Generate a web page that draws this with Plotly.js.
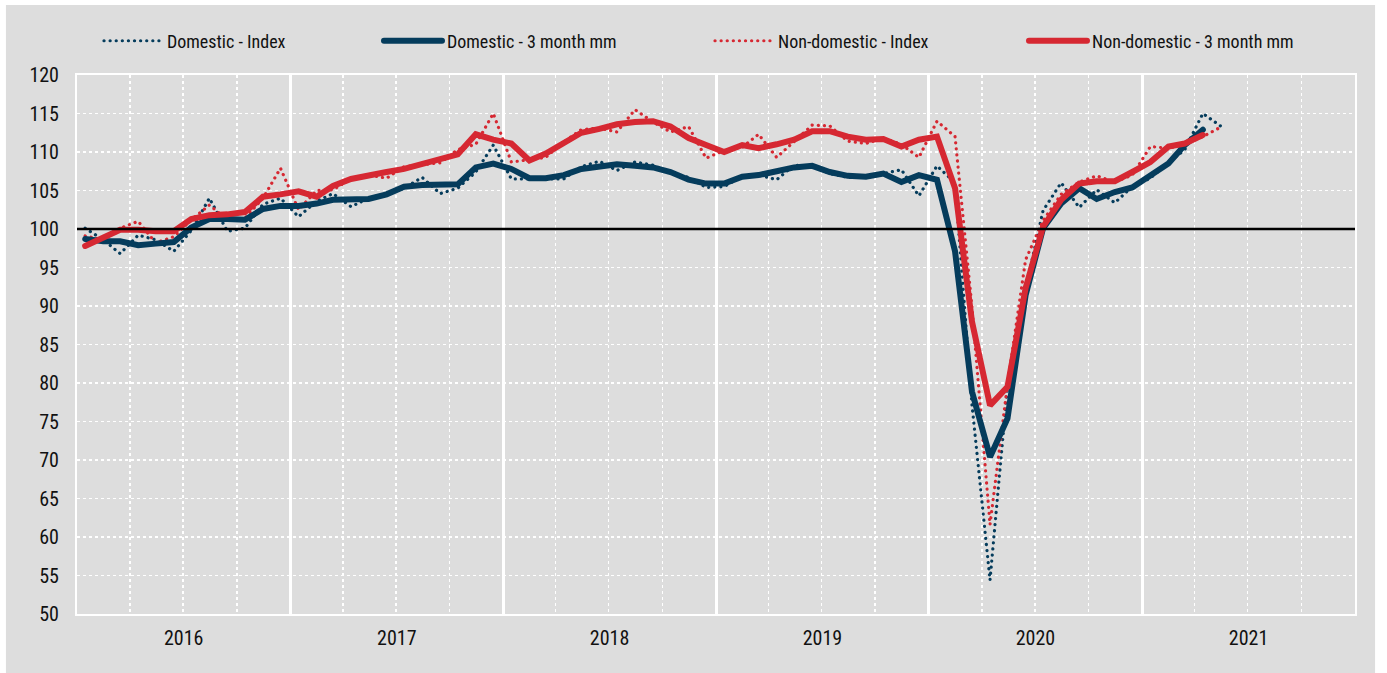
<!DOCTYPE html>
<html>
<head>
<meta charset="utf-8">
<script src="https://cdn.plot.ly/plotly-3.0.1.min.js"></script>
<style>
  html, body { margin: 0; padding: 0; background: #ffffff; }
  #chart { width: 1387px; height: 673px; }
  #chart path.js-line { stroke-linecap: round !important; }
</style>
</head>
<body>
<div id="chart"></div>
<script>
// Monthly observations, Jan 2016 onwards (plotted at mid-month)
const startYear = 2016;
const domesticIndex = [
  100.1, 98.6, 96.8, 99.2, 98.6, 97.1, 99.8, 104.0, 99.7, 100.1,
  103.2, 104.0, 101.6, 103.6, 104.6, 102.9, 104.0, 104.5, 105.3, 106.7,
  104.6, 105.3, 107.4, 110.9, 106.5, 106.5, 106.6, 106.5, 108.1, 108.8,
  107.6, 108.7, 108.3, 107.3, 106.7, 105.4, 105.5, 106.9, 107.0, 106.4,
  108.3, 108.2, 107.2, 106.7, 106.7, 107.2, 107.7, 104.3, 108.2, 106.0,
  77.2, 54.4, 79.6, 92.2, 102.4, 106.0, 102.8, 105.1, 103.4, 105.5,
  106.6, 108.6, 110.3, 115.0, 113.4
];
const domestic3mm = [
  98.7, 98.4, 98.4, 97.9, 98.1, 98.3, 100.2, 101.3, 101.3, 101.2,
  102.6, 103.0, 103.0, 103.3, 103.8, 103.9, 103.9, 104.5, 105.5, 105.7,
  105.7, 105.8, 108.0, 108.5, 107.8, 106.6, 106.6, 107.0, 107.8, 108.1,
  108.4, 108.2, 108.0, 107.4, 106.4, 105.9, 105.9, 106.8, 107.0, 107.5,
  108.0, 108.2, 107.4, 106.9, 106.8, 107.2, 106.1, 107.0, 106.4, 97.1,
  78.9, 70.4, 75.4, 91.4, 100.1, 103.3, 105.3, 103.9, 104.8, 105.4,
  107.0, 108.5, 110.9, 112.9
];
const nonDomesticIndex = [
  99.1, 98.6, 100.1, 101.0, 98.2, 99.0, 101.2, 103.1, 101.2, 101.4,
  104.0, 107.9, 102.5, 105.0, 105.1, 106.5, 107.0, 106.6, 108.1, 108.3,
  108.6, 110.3, 111.0, 115.0, 108.7, 109.0, 109.3, 111.3, 112.9, 113.1,
  112.6, 115.5, 113.9, 112.6, 113.3, 109.2, 110.2, 110.6, 112.3, 109.3,
  111.4, 113.5, 113.4, 111.4, 111.1, 111.8, 111.0, 109.3, 114.0, 112.0,
  89.9, 61.6, 79.8, 96.0, 101.1, 104.5, 106.1, 106.9, 106.1, 107.0,
  110.7, 110.5, 111.0, 112.0, 113.2
];
const nonDomestic3mm = [
  97.8, 98.8, 99.9, 99.9, 99.7, 99.7, 101.3, 101.8, 101.9, 102.2,
  104.2, 104.5, 104.9, 104.2, 105.6, 106.5, 107.0, 107.4, 107.8, 108.4,
  109.1, 109.7, 112.3, 111.6, 111.1, 108.9, 109.8, 111.1, 112.5, 113.0,
  113.6, 113.9, 114.0, 113.3, 111.8, 110.9, 110.0, 110.9, 110.5, 111.0,
  111.6, 112.7, 112.7, 112.0, 111.6, 111.7, 110.7, 111.6, 112.0, 105.3,
  88.0, 77.1, 79.5, 92.3, 100.3, 103.8, 105.9, 106.2, 106.2, 107.4,
  108.7, 110.7, 111.1, 112.2
];
const seriesNames = ["Domestic - Index", "Domestic - 3 month mm", "Non-domestic - Index", "Non-domestic - 3 month mm"];

function monthDates(n) {
  const out = [];
  for (let i = 0; i < n; i++) {
    const y = startYear + Math.floor(i / 12);
    const m = (i % 12) + 1;
    out.push(y + "-" + String(m).padStart(2, "0") + "-15");
  }
  return out;
}

const NAVY = "#053c5c";
const RED = "#d62832";
const FONT = "'Liberation Sans Narrow', 'Roboto Condensed', 'DejaVu Sans Condensed', 'Arial Narrow', sans-serif";
const DOTS = "0.1px,6px";

const traces = [
  { x: monthDates(domesticIndex.length), y: domesticIndex, name: seriesNames[0], mode: "lines",
    line: { color: NAVY, width: 3.2, dash: DOTS }, legend: "legend" },
  { x: monthDates(nonDomesticIndex.length), y: nonDomesticIndex, name: seriesNames[2], mode: "lines",
    line: { color: RED, width: 3.2, dash: DOTS }, legend: "legend3" },
  { x: monthDates(domestic3mm.length), y: domestic3mm, name: seriesNames[1], mode: "lines",
    line: { color: NAVY, width: 6 }, legend: "legend2" },
  { x: monthDates(nonDomestic3mm.length), y: nonDomestic3mm, name: seriesNames[3], mode: "lines",
    line: { color: RED, width: 6 }, legend: "legend4" }
];

const legendBase = {
  orientation: "h", bgcolor: "rgba(0,0,0,0)", borderwidth: 0,
  font: { family: FONT, size: 18, color: "#111111" },
  itemwidth: 58, y: 1.063, yanchor: "middle", xanchor: "left",
  itemclick: false, itemdoubleclick: false
};

const GRAY = "#dddddd";
const layout = {
  width: 1387, height: 673,
  margin: { l: 77, r: 32, t: 75, b: 59, pad: 0 },
  paper_bgcolor: "#ffffff",
  plot_bgcolor: GRAY,
  showlegend: true,
  legend: Object.assign({}, legendBase, { x: 0.0172 }),
  legend2: Object.assign({}, legendBase, { x: 0.2363 }),
  legend3: Object.assign({}, legendBase, { x: 0.4953 }),
  legend4: Object.assign({}, legendBase, { x: 0.7410 }),
  xaxis: {
    type: "date",
    range: ["2016-01-01", "2022-01-01"],
    dtick: "M12", tick0: "2016-01-01",
    tickformat: "%Y", ticklabelmode: "period",
    showgrid: true, gridcolor: "#ffffff", gridwidth: 3,
    minor: { dtick: "M3", showgrid: true, gridcolor: "#ffffff", gridwidth: 1.5, griddash: "dot" },
    ticks: "outside", ticklen: 5, tickcolor: "rgba(0,0,0,0)",
    showline: true, linecolor: "#ffffff", linewidth: 2, mirror: true,
    zeroline: false,
    tickfont: { family: FONT, size: 20, color: "#111111" }
  },
  yaxis: {
    range: [50, 120], dtick: 5, tick0: 50,
    showgrid: true, gridcolor: "#ffffff", gridwidth: 1.5, griddash: "dot",
    ticks: "outside", ticklen: 12, tickcolor: "rgba(0,0,0,0)",
    showline: true, linecolor: "#ffffff", linewidth: 2, mirror: true,
    zeroline: false,
    tickfont: { family: FONT, size: 20, color: "#111111" }
  },
  shapes: [
    { type: "rect", xref: "paper", yref: "paper", layer: "below",
      x0: -0.0556, x1: 1.0157, y0: -0.12, y1: 1.13,
      fillcolor: GRAY, line: { width: 0 } },
    { type: "line", xref: "paper", yref: "y", x0: 0, x1: 1, y0: 100, y1: 100,
      line: { color: "#000000", width: 2.5 }, layer: "above" }
  ]
};

Plotly.newPlot("chart", traces, layout, { displayModeBar: false, staticPlot: true });
</script>
</body>
</html>
